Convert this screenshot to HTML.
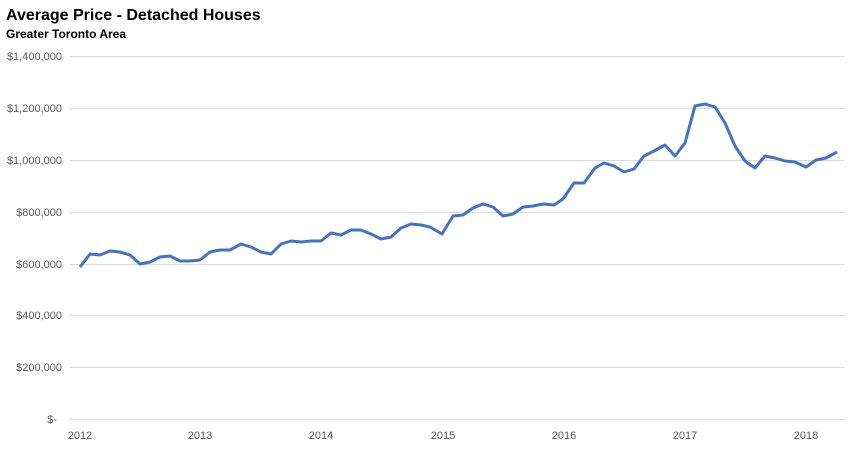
<!DOCTYPE html>
<html><head><style>
body{margin:0;background:#fff;width:851px;height:458px;overflow:hidden;font-family:"Liberation Sans",Arial,sans-serif}
</style></head><body>
<svg width="851" height="458" xmlns="http://www.w3.org/2000/svg" font-family="Liberation Sans, Arial, sans-serif">
<text x="6" y="20" font-size="16" font-weight="bold" fill="#000">Average Price - Detached Houses</text>
<text x="6" y="38" font-size="12" font-weight="bold" fill="#000">Greater Toronto Area</text>
<g stroke="#d9d9d9" stroke-width="1">
<line x1="70" x2="845" y1="56.5" y2="56.5"/><line x1="70" x2="845" y1="108.5" y2="108.5"/>
<line x1="70" x2="845" y1="160.5" y2="160.5"/><line x1="70" x2="845" y1="212.5" y2="212.5"/>
<line x1="70" x2="845" y1="264.5" y2="264.5"/><line x1="70" x2="845" y1="315.5" y2="315.5"/>
<line x1="70" x2="845" y1="367.5" y2="367.5"/><line x1="70" x2="845" y1="419.5" y2="419.5"/>
</g>
<g font-size="11" fill="#595959" text-anchor="end">
<text x="62" y="60">$1,400,000</text><text x="62" y="112">$1,200,000</text>
<text x="62" y="164">$1,000,000</text><text x="62" y="216">$800,000</text>
<text x="62" y="268">$600,000</text><text x="62" y="319">$400,000</text>
<text x="62" y="371">$200,000</text><text x="57" y="423">$-</text>
</g>
<g font-size="11" fill="#595959" text-anchor="middle">
<text x="80" y="439">2012</text><text x="200" y="439">2013</text><text x="321" y="439">2014</text>
<text x="443" y="439">2015</text><text x="564" y="439">2016</text><text x="685" y="439">2017</text><text x="806" y="439">2018</text>
</g>
<polyline fill="none" stroke="#4472c4" stroke-width="3" stroke-linejoin="round" points="
80,267 90,254 100,255 110,251 120,252 130,255 140,264 150,262 160,257 170,256 180,261 190,261 200,260 210,252 220,250 230,250 241,244 251,247 261,252 271,254 281,244 291,241 301,242 311,241 321,241 331,233 341,235 351,230 361,230 371,234 381,239 391,237 401,228 411,224 421,225 430,227 442,234 453,216 463,215 473,208 483,204 493,207 503,216 513,214 523,207 533,206 543,204 554,205 563,199 574,183 584,183 595,168 604,163 614,166 624,172 634,169 644,156 654,151 665,145 675,156 685,143 695,106 705,104 715,107 725,123 735,146 745,161 755,168 765,156 775,158 785,161 795,162 806,167 816,160 826,158 837,152"/>
</svg>
</body></html>
